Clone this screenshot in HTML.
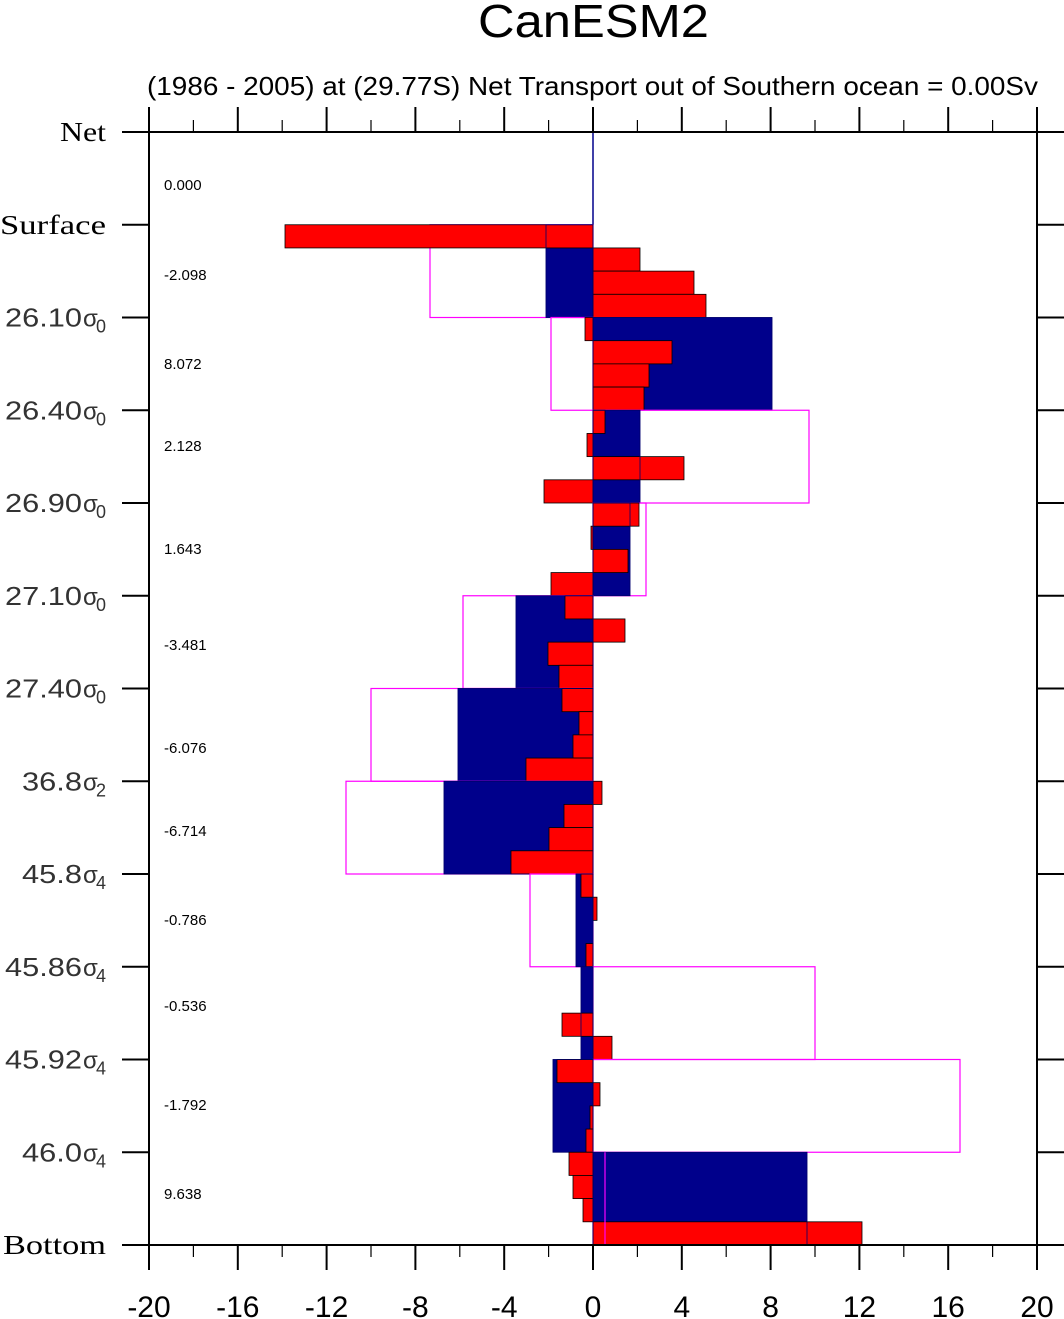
<!DOCTYPE html>
<html><head><meta charset="utf-8"><style>
html,body{margin:0;padding:0;background:#fff;}
svg{display:block;}
</style></head><body>
<svg id="s" width="1064" height="1319" xmlns="http://www.w3.org/2000/svg"></svg>
<script>
const s=document.getElementById('s');
let h='';
const X0=149,X1=1037,Y0=132,Y1=1245;
const xs=v=>593+v*22.2;
const lv=[];for(let i=0;i<=12;i++)lv.push(Y0+(Y1-Y0)*i/12);
function rect(x1,x2,y1,y2,f,st,sw){const a=Math.min(x1,x2),b=Math.max(x1,x2);h+=`<rect x="${a}" y="${y1}" width="${b-a}" height="${y2-y1}" fill="${f}" stroke="${st}" stroke-width="${sw}"/>`;}
const bands=[
 [593,593,[]],
 [546,430,[285,640,694,706]],
 [772,551,[585,672,649,644]],
 [640,809,[605,587,684,544]],
 [630,646,[639,591,628,551]],
 [516,463,[565,625,548,559]],
 [458,371,[562,579,573,526]],
 [444,346,[602,564,549,511]],
 [576,530,[581,597,593,586]],
 [581,815,[593,593,562,612]],
 [553,960,[557,600,590,586]],
 [807,605,[569,573,583,862]]
];
const nets=["0.000","-2.098","8.072","2.128","1.643","-3.481","-6.076","-6.714","-0.786","-0.536","-1.792","9.638"];
const ny=[185,275,364,446,549,645,748,831,920,1006,1105,1194];
bands.forEach((b,i)=>{
 const y1=lv[i],y2=lv[i+1];
 if(b[1]!=593)rect(593,b[1],y1,y2,'none','#ff00ff',1.2);
 if(b[0]!=593)rect(593,b[0],y1,y2,'#00008b','#00008b',0.5);
 else h+=`<line x1="593" y1="${y1}" x2="593" y2="${y2}" stroke="#00008b" stroke-width="1.5"/>`;
 const sh=(y2-y1)/4;
 b[2].forEach((r,j)=>{if(r!=593)rect(593,r,y1+j*sh,y1+(j+1)*sh,'#ff0000','#000',0.8);});
 if(b[0]!=593)rect(593,b[0],y1,y2,'none','#00006a',0.8);
 h+=`<text x="164" y="${ny[i]+5}" font-family="Liberation Sans,sans-serif" font-size="15">${nets[i]}</text>`;
});
h+=`<line x1="605" y1="${lv[11]}" x2="605" y2="${lv[12]}" stroke="#ff00ff" stroke-width="1.2"/>`;
h+=`<rect x="${X0}" y="${Y0}" width="${X1-X0}" height="${Y1-Y0}" fill="none" stroke="#000" stroke-width="2"/>`;
for(let v=-20;v<=20;v+=2){const x=xs(v);const maj=v%4==0;
 h+=`<line x1="${x}" y1="${Y0}" x2="${x}" y2="${Y0-(maj?25:12)}" stroke="#000" stroke-width="${maj?2:1.2}"/>`;
 h+=`<line x1="${x}" y1="${Y1}" x2="${x}" y2="${Y1+(maj?25:12)}" stroke="#000" stroke-width="${maj?2:1.2}"/>`;
 if(maj)h+=`<text x="${x}" y="1317" text-anchor="middle" font-family="Liberation Sans,sans-serif" font-size="30">${v}</text>`;
}
const labs=[["Net",null,60],["Surface",null,0],["26.10","0",5],["26.40","0",5],["26.90","0",5],["27.10","0",5],["27.40","0",5],["36.8","2",22],["45.8","4",22],["45.86","4",5],["45.92","4",5],["46.0","4",22],["Bottom",null,3]];
lv.forEach((y,i)=>{
 h+=`<line x1="122" y1="${y}" x2="${X0}" y2="${y}" stroke="#000" stroke-width="2"/>`;
 h+=`<line x1="${X1}" y1="${y}" x2="1064" y2="${y}" stroke="#000" stroke-width="2"/>`;
 const l=labs[i];
 if(!l[1])h+=`<text x="${l[2]}" y="${y+9}" textLength="${106-l[2]}" lengthAdjust="spacingAndGlyphs" font-family="Liberation Serif,serif" font-size="27">${l[0]}</text>`;
 else{const w=106-l[2]-24;
  h+=`<text x="${l[2]}" y="${y+9}" textLength="${w}" lengthAdjust="spacingAndGlyphs" font-family="Liberation Sans,sans-serif" font-size="26" fill="#333">${l[0]}</text>`;
  h+=`<text x="${l[2]+w+1}" y="${y+9}" font-family="Liberation Sans,sans-serif" font-size="24" fill="#333">σ</text>`;
  h+=`<text x="${l[2]+w+14}" y="${y+15}" font-family="Liberation Sans,sans-serif" font-size="18" fill="#333">${l[1]}</text>`;}
});
h+=`<text x="478" y="37" textLength="231" lengthAdjust="spacingAndGlyphs" font-family="Liberation Sans,sans-serif" font-size="46">CanESM2</text>`;
h+=`<text x="147" y="95" textLength="891" lengthAdjust="spacingAndGlyphs" font-family="Liberation Sans,sans-serif" font-size="26">(1986 - 2005) at (29.77S)   Net Transport out of Southern ocean = 0.00Sv</text>`;
s.innerHTML=h;
</script>
</body></html>
